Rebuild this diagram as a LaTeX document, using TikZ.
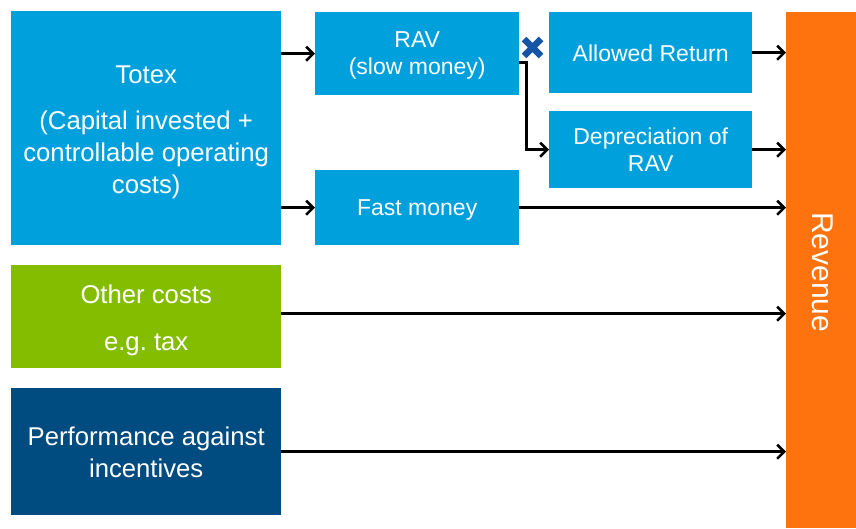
\documentclass[tikz,border=0pt]{standalone}
\usepackage{fontspec}
\setmainfont{Liberation Sans}
\usetikzlibrary{arrows.meta,calc}
\definecolor{lblue}{RGB}{0,160,220}
\definecolor{lgreen}{RGB}{132,189,0}
\definecolor{dblue}{RGB}{0,75,128}
\definecolor{orng}{RGB}{255,115,15}
\definecolor{xblue}{RGB}{20,85,165}
\begin{document}
\begin{tikzpicture}[x=1pt,y=-1pt,
  box/.style={rectangle, anchor=north west, inner sep=0pt},
  txt/.style={inner sep=0pt, align=center, text=white},
  bigtext/.style={txt, font=\fontsize{25.7}{32}\selectfont},
  smalltext/.style={txt, font=\fontsize{23}{27}\selectfont},
  flow/.style={draw=black, line width=2.6pt, -{Straight Barb[length=7pt,width=14pt]}},
  crossmark/.style={draw=xblue, line width=6.5pt}
]
\useasboundingbox (0,0) rectangle (856,528);

\node[box,fill=lblue,minimum width=270pt,minimum height=234pt,
  label={[bigtext,yshift=-4.5pt]center:{Totex\\[14pt](Capital invested +\\controllable operating\\costs)}}] (totex) at (11,11) {};
\node[box,fill=lblue,minimum width=204pt,minimum height=83pt,
  label={[smalltext,yshift=-2pt]center:{RAV\\(slow money)}}] (rav) at (315,12) {};
\node[box,fill=lblue,minimum width=203pt,minimum height=81pt,
  label={[smalltext,yshift=-1pt]center:{Allowed Return}}] (ar) at (549,12) {};
\node[box,fill=lblue,minimum width=203pt,minimum height=77pt,
  label={[smalltext,yshift=0.5pt]center:{Depreciation of\\RAV}}] (dep) at (549,111) {};
\node[box,fill=lblue,minimum width=204pt,minimum height=75pt,
  label={[smalltext,yshift=-2pt]center:{Fast money}}] (fast) at (315,170) {};
\node[box,fill=lgreen,minimum width=270pt,minimum height=103pt,
  label={[bigtext,yshift=-4pt]center:{Other costs\\[15pt]e.g.\ tax}}] (other) at (11,265) {};
\node[box,fill=dblue,minimum width=270pt,minimum height=127pt,
  label={[bigtext,yshift=-1pt]center:{Performance against\\incentives}}] (perf) at (11,388) {};
\node[box,fill=orng,minimum width=70pt,minimum height=516pt] (rev) at (786,12) {};
\node[rotate=-90,text=white,font=\fontsize{30}{36}\selectfont,inner sep=0pt] (revlabel) at ([xshift=1pt,yshift=-2pt]rev.center) {Revenue};

\draw[flow] (totex.east |- rav.west) -- (rav.west);
\draw[flow] (totex.east |- fast.west) -- (fast.west);
\draw[flow] ([yshift=-9pt]rav.east) -- ++(7,0) |- (dep.west);
\draw[flow] (ar.east) -- (ar.east -| rev.west);
\draw[flow] (dep.east) -- (dep.east -| rev.west);
\draw[flow] (fast.east) -- (fast.east -| rev.west);
\draw[flow] ([yshift=3pt]other.east) -- ([yshift=3pt]other.east -| rev.west);
\draw[flow] (perf.east) -- (perf.east -| rev.west);

\coordinate (xmark) at (532.5,47.5);
\draw[crossmark] ([shift={(-8.5,-8.5)}]xmark) -- ([shift={(8.5,8.5)}]xmark)
                 ([shift={(-8.5,8.5)}]xmark) -- ([shift={(8.5,-8.5)}]xmark);
\end{tikzpicture}
\end{document}
